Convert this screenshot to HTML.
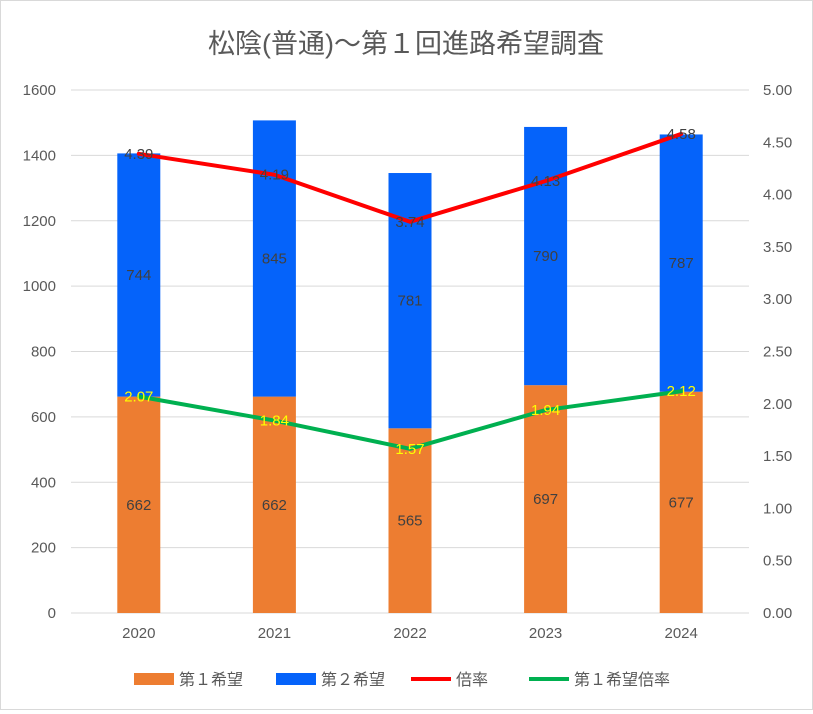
<!DOCTYPE html>
<html><head><meta charset="utf-8"><style>
body{margin:0;background:#fff;font-family:"Liberation Sans","Noto Sans CJK JP",sans-serif}
#wrap{position:relative;width:813px;height:710px;border:1px solid #d9d9d9;box-sizing:border-box}
</style></head><body>
<div id="wrap">
<svg id="c" width="811" height="708"></svg>
</div>
<script>
const years=["2020","2021","2022","2023","2024"];
const first=[662,662,565,697,677];
const second=[744,845,781,790,787];
const ratio=[4.39,4.19,3.74,4.13,4.58];
const firstRatio=[2.07,1.84,1.57,1.94,2.12];
const leftTicks=[0,200,400,600,800,1000,1200,1400,1600];
const rightTicks=["0.00","0.50","1.00","1.50","2.00","2.50","3.00","3.50","4.00","4.50","5.00"];
const NS="http://www.w3.org/2000/svg";
const svg=document.getElementById('c');
const x0=70,x1=748,yB=612,yT=89;
const yL=v=>yB-(v/1600)*(yB-yT);
const yR=v=>yB-(v/5)*(yB-yT);
const step=(x1-x0)/years.length;
const xc=i=>x0+step*(i+0.5);
function el(t,a,txt){const e=document.createElementNS(NS,t);for(const k in a)e.setAttribute(k,a[k]);if(txt!==undefined)e.textContent=txt;svg.appendChild(e);return e;}
let e=el('text',{x:405,y:52,'text-anchor':'middle','font-size':27,fill:'#595959'},'松陰(普通)～第１回進路希望調査');

leftTicks.forEach(v=>{
 e=el('line',{x1:x0,x2:x1,y1:yL(v),y2:yL(v),stroke:'#d9d9d9'});
 
 e=el('text',{x:55,y:yL(v)+5,'text-anchor':'end','font-size':15,fill:'#595959'},v);
 
});
rightTicks.forEach(t=>{
 e=el('text',{x:762,y:yR(parseFloat(t))+5,'font-size':15,fill:'#595959'},t);
 
});
const bw=43;
years.forEach((y,i)=>{
 const x=xc(i);
 e=el('rect',{x:x-bw/2,y:yL(first[i]),width:bw,height:yB-yL(first[i]),fill:'#ed7d31'});
 
 e=el('rect',{x:x-bw/2,y:yL(first[i]+second[i]),width:bw,height:yL(first[i])-yL(first[i]+second[i]),fill:'#0563fa'});
 
 e=el('text',{x:x,y:(yB+yL(first[i]))/2+5,'text-anchor':'middle','font-size':15,fill:'#404040'},first[i]);
 
 e=el('text',{x:x,y:(yL(first[i])+yL(first[i]+second[i]))/2+5,'text-anchor':'middle','font-size':15,fill:'#404040'},second[i]);
 
 e=el('text',{x:x,y:yB+25,'text-anchor':'middle','font-size':15,fill:'#595959'},y);
 
});
function line(arr,color,name){
 const p=el('polyline',{points:arr.map((v,i)=>xc(i)+','+yR(v)).join(' '),fill:'none',stroke:color,'stroke-width':4,'stroke-linejoin':'round','stroke-linecap':'round'});
 
}
line(ratio,'#ff0000','ratio-line');
line(firstRatio,'#00b050','first-ratio-line');
ratio.forEach((v,i)=>{
 e=el('text',{x:xc(i),y:yR(v)+5,'text-anchor':'middle','font-size':15,fill:'#404040'},v.toFixed(2));
 
});
firstRatio.forEach((v,i)=>{
 e=el('text',{x:xc(i),y:yR(v)+5,'text-anchor':'middle','font-size':15,fill:'#ffff00'},v.toFixed(2));
 
});
const leg=[['rect','#ed7d31','第１希望',133],['rect','#0563fa','第２希望',275],['line','#ff0000','倍率',410],['line','#00b050','第１希望倍率',528]];
leg.forEach(l=>{
 if(l[0]=='rect'){e=el('rect',{x:l[3],y:672,width:40,height:12,fill:l[1]});}
 else{e=el('line',{x1:l[3],x2:l[3]+40,y1:678,y2:678,stroke:l[1],'stroke-width':4});}
 
 e=el('text',{x:l[3]+45,y:684,'font-size':16,fill:'#595959'},l[2]);
 
});
</script>
</body></html>
